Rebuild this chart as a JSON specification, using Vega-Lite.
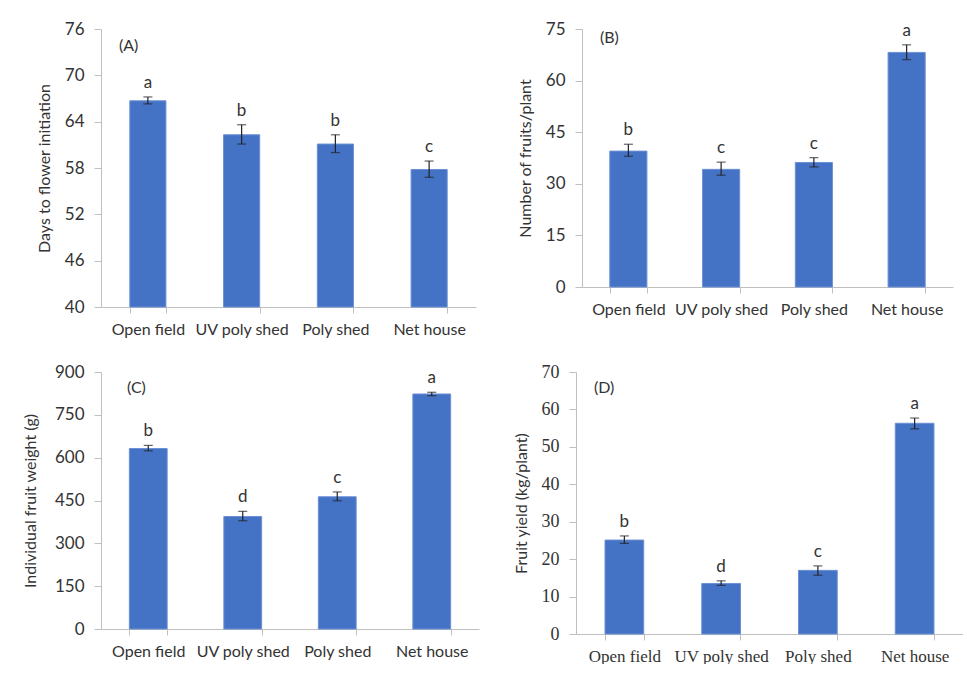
{
  "$schema": "https://vega.github.io/schema/vega-lite/v6.json",
  "padding": {"left": 22, "top": 20, "right": 0, "bottom": 0},
  "background": "white",
  "config": {
    "view": {"stroke": null},
    "font": "Lato",
    "axis": {"domainColor": "#bfbfbf", "tickColor": "#bfbfbf", "labelColor": "#333333", "titleColor": "#333333", "labelFontSize": 16, "titleFontSize": 16, "titleFontWeight": "normal", "grid": false, "labelFont": "Lato", "titleFont": "Lato"},
    "axisX": {"tickBand": "extent", "tickSize": 6, "labelPadding": 8, "labelAngle": 0},
    "axisY": {"tickSize": 7, "labelPadding": 10, "titlePadding": 12, "labelFontSize": 17, "labelOverlap": false},
    "title": {"anchor": "start", "frame": "group", "fontSize": 16, "fontWeight": "normal", "color": "#333333", "font": "Lato", "offset": -34, "dx": 20}
  },
  "datasets": {
    "A": [
      {"treatment": "Open field", "value": 66.7, "lo": 66.3, "hi": 67.2, "letter": "a"},
      {"treatment": "UV poly shed", "value": 62.3, "lo": 61.1, "hi": 63.6, "letter": "b"},
      {"treatment": "Poly shed", "value": 61.1, "lo": 60.0, "hi": 62.3, "letter": "b"},
      {"treatment": "Net house", "value": 57.8, "lo": 56.8, "hi": 58.9, "letter": "c"}
    ],
    "B": [
      {"treatment": "Open field", "value": 39.5, "lo": 38.0, "hi": 41.5, "letter": "b"},
      {"treatment": "UV poly shed", "value": 34.2, "lo": 32.5, "hi": 36.3, "letter": "c"},
      {"treatment": "Poly shed", "value": 36.2, "lo": 34.9, "hi": 37.6, "letter": "c"},
      {"treatment": "Net house", "value": 68.2, "lo": 66.1, "hi": 70.4, "letter": "a"}
    ],
    "C": [
      {"treatment": "Open field", "value": 632, "lo": 624, "hi": 643, "letter": "b"},
      {"treatment": "UV poly shed", "value": 394, "lo": 379, "hi": 412, "letter": "d"},
      {"treatment": "Poly shed", "value": 463, "lo": 449, "hi": 480, "letter": "c"},
      {"treatment": "Net house", "value": 823, "lo": 817, "hi": 829, "letter": "a"}
    ],
    "D": [
      {"treatment": "Open field", "value": 25.1, "lo": 24.2, "hi": 26.2, "letter": "b"},
      {"treatment": "UV poly shed", "value": 13.5, "lo": 13.0, "hi": 14.2, "letter": "d"},
      {"treatment": "Poly shed", "value": 17.0, "lo": 15.7, "hi": 18.2, "letter": "c"},
      {"treatment": "Net house", "value": 56.3, "lo": 54.8, "hi": 57.7, "letter": "a"}
    ]
  },
  "spacing": 26,
  "align": "none",
  "vconcat": [
    {
      "spacing": 41,
      "hconcat": [
        {
          "width": 375, "height": 278,
          "title": {"text": "(A)", "offset": -34, "dx": 18},
          "data": {"name": "A"},
          "encoding": {"x": {"field": "treatment", "type": "nominal", "sort": null, "title": null, "scale": {"paddingInner": 0.615, "paddingOuter": 0.3075}}},
          "layer": [
            {"mark": {"type": "bar", "color": "#4472C4", "stroke": "#6b90d4", "strokeWidth": 1}, "encoding": {"y": {"field": "value", "type": "quantitative", "title": "Days to flower initiation", "scale": {"domain": [40, 76], "nice": false, "zero": false}, "axis": {"values": [40, 46, 52, 58, 64, 70, 76]}}, "y2": {"datum": 40}}},
            {"mark": {"type": "rule", "color": "#222222", "strokeWidth": 1.2}, "encoding": {"y": {"field": "lo", "type": "quantitative", "title": "Days to flower initiation", "axis": {"values": [40, 46, 52, 58, 64, 70, 76]}}, "y2": {"field": "hi"}}},
            {"mark": {"type": "tick", "color": "#222222", "size": 9, "thickness": 1.2}, "encoding": {"y": {"field": "lo", "type": "quantitative", "title": "Days to flower initiation", "axis": {"values": [40, 46, 52, 58, 64, 70, 76]}}}},
            {"mark": {"type": "tick", "color": "#222222", "size": 9, "thickness": 1.2}, "encoding": {"y": {"field": "hi", "type": "quantitative", "title": "Days to flower initiation", "axis": {"values": [40, 46, 52, 58, 64, 70, 76]}}}},
            {"mark": {"type": "text", "baseline": "bottom", "dy": -5, "fontSize": 17, "color": "#333333", "font": "Lato"}, "encoding": {"y": {"field": "hi", "type": "quantitative", "title": "Days to flower initiation", "axis": {"values": [40, 46, 52, 58, 64, 70, 76]}}, "text": {"field": "letter"}}}
          ]
        },
        {
          "width": 371, "height": 258,
          "title": {"text": "(B)", "offset": -26, "dx": 18},
          "data": {"name": "B"},
          "encoding": {"x": {"field": "treatment", "type": "nominal", "sort": null, "title": null, "scale": {"paddingInner": 0.6, "paddingOuter": 0.3}}},
          "layer": [
            {"mark": {"type": "bar", "color": "#4472C4", "stroke": "#6b90d4", "strokeWidth": 1}, "encoding": {"y": {"field": "value", "type": "quantitative", "title": "Number of fruits/plant", "scale": {"domain": [0, 75], "nice": false}, "axis": {"values": [0, 15, 30, 45, 60, 75]}}}},
            {"mark": {"type": "rule", "color": "#222222", "strokeWidth": 1.2}, "encoding": {"y": {"field": "lo", "type": "quantitative", "title": "Number of fruits/plant", "axis": {"values": [0, 15, 30, 45, 60, 75]}}, "y2": {"field": "hi"}}},
            {"mark": {"type": "tick", "color": "#222222", "size": 9, "thickness": 1.2}, "encoding": {"y": {"field": "lo", "type": "quantitative", "title": "Number of fruits/plant", "axis": {"values": [0, 15, 30, 45, 60, 75]}}}},
            {"mark": {"type": "tick", "color": "#222222", "size": 9, "thickness": 1.2}, "encoding": {"y": {"field": "hi", "type": "quantitative", "title": "Number of fruits/plant", "axis": {"values": [0, 15, 30, 45, 60, 75]}}}},
            {"mark": {"type": "text", "baseline": "bottom", "dy": -5, "fontSize": 17, "color": "#333333", "font": "Lato"}, "encoding": {"y": {"field": "hi", "type": "quantitative", "title": "Number of fruits/plant", "axis": {"values": [0, 15, 30, 45, 60, 75]}}, "text": {"field": "letter"}}}
          ]
        }
      ]
    },
    {
      "spacing": 34,
      "hconcat": [
        {
          "width": 378, "height": 257,
          "title": {"text": "(C)", "offset": -33, "dx": 26},
          "data": {"name": "C"},
          "encoding": {"x": {"field": "treatment", "type": "nominal", "sort": null, "title": null, "scale": {"paddingInner": 0.6, "paddingOuter": 0.3}}},
          "layer": [
            {"mark": {"type": "bar", "color": "#4472C4", "stroke": "#6b90d4", "strokeWidth": 1}, "encoding": {"y": {"field": "value", "type": "quantitative", "title": "Individual fruit weight (g)", "scale": {"domain": [0, 900], "nice": false}, "axis": {"values": [0, 150, 300, 450, 600, 750, 900], "titlePadding": 16}}}},
            {"mark": {"type": "rule", "color": "#222222", "strokeWidth": 1.2}, "encoding": {"y": {"field": "lo", "type": "quantitative", "title": "Individual fruit weight (g)", "axis": {"values": [0, 150, 300, 450, 600, 750, 900], "titlePadding": 16}}, "y2": {"field": "hi"}}},
            {"mark": {"type": "tick", "color": "#222222", "size": 9, "thickness": 1.2}, "encoding": {"y": {"field": "lo", "type": "quantitative", "title": "Individual fruit weight (g)", "axis": {"values": [0, 150, 300, 450, 600, 750, 900], "titlePadding": 16}}}},
            {"mark": {"type": "tick", "color": "#222222", "size": 9, "thickness": 1.2}, "encoding": {"y": {"field": "hi", "type": "quantitative", "title": "Individual fruit weight (g)", "axis": {"values": [0, 150, 300, 450, 600, 750, 900], "titlePadding": 16}}}},
            {"mark": {"type": "text", "baseline": "bottom", "dy": -5, "fontSize": 17, "color": "#333333", "font": "Lato"}, "encoding": {"y": {"field": "hi", "type": "quantitative", "title": "Individual fruit weight (g)", "axis": {"values": [0, 150, 300, 450, 600, 750, 900], "titlePadding": 16}}, "text": {"field": "letter"}}}
          ]
        },
        {
          "width": 387, "height": 262,
          "title": {"text": "(D)", "offset": -33, "dx": 18},
          "data": {"name": "D"},
          "encoding": {"x": {"field": "treatment", "type": "nominal", "sort": null, "title": null, "scale": {"paddingInner": 0.6, "paddingOuter": 0.3}, "axis": {"labelFont": "Liberation Serif", "labelFontSize": 17}}},
          "layer": [
            {"mark": {"type": "bar", "color": "#4472C4", "stroke": "#6b90d4", "strokeWidth": 1}, "encoding": {"y": {"field": "value", "type": "quantitative", "title": "Fruit yield (kg/plant)", "scale": {"domain": [0, 70], "nice": false}, "axis": {"values": [0, 10, 20, 30, 40, 50, 60, 70], "labelFont": "Liberation Serif", "labelFontSize": 18}}}},
            {"mark": {"type": "rule", "color": "#222222", "strokeWidth": 1.2}, "encoding": {"y": {"field": "lo", "type": "quantitative", "title": "Fruit yield (kg/plant)", "axis": {"values": [0, 10, 20, 30, 40, 50, 60, 70], "labelFont": "Liberation Serif", "labelFontSize": 18}}, "y2": {"field": "hi"}}},
            {"mark": {"type": "tick", "color": "#222222", "size": 9, "thickness": 1.2}, "encoding": {"y": {"field": "lo", "type": "quantitative", "title": "Fruit yield (kg/plant)", "axis": {"values": [0, 10, 20, 30, 40, 50, 60, 70], "labelFont": "Liberation Serif", "labelFontSize": 18}}}},
            {"mark": {"type": "tick", "color": "#222222", "size": 9, "thickness": 1.2}, "encoding": {"y": {"field": "hi", "type": "quantitative", "title": "Fruit yield (kg/plant)", "axis": {"values": [0, 10, 20, 30, 40, 50, 60, 70], "labelFont": "Liberation Serif", "labelFontSize": 18}}}},
            {"mark": {"type": "text", "baseline": "bottom", "dy": -5, "fontSize": 17, "color": "#333333", "font": "Lato"}, "encoding": {"y": {"field": "hi", "type": "quantitative", "title": "Fruit yield (kg/plant)", "axis": {"values": [0, 10, 20, 30, 40, 50, 60, 70], "labelFont": "Liberation Serif", "labelFontSize": 18}}, "text": {"field": "letter"}}}
          ]
        }
      ]
    }
  ]
}
